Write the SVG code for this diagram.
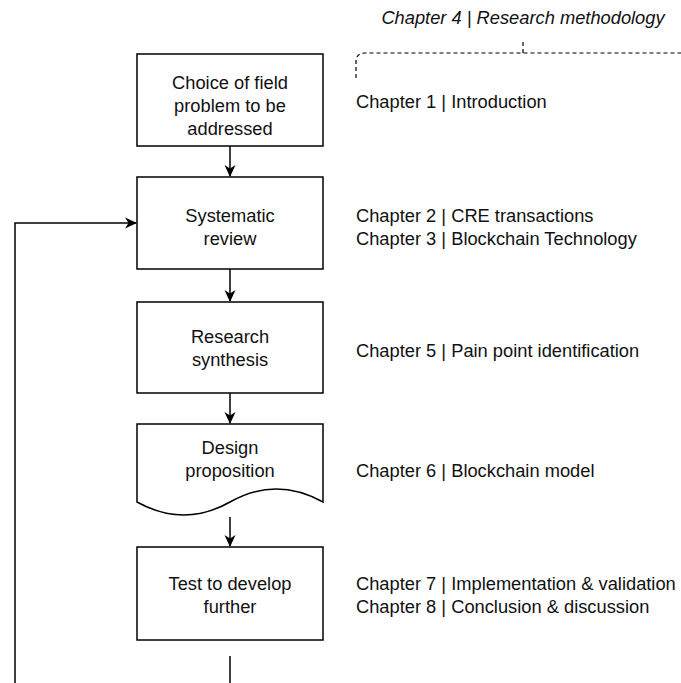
<svg xmlns="http://www.w3.org/2000/svg" width="681" height="683" viewBox="0 0 681 683">
  <defs>
    <marker id="arrow" viewBox="0 0 12 12" refX="11" refY="6" markerWidth="12" markerHeight="12" markerUnits="userSpaceOnUse" orient="auto">
      <path d="M0,0.5 L12,6 L0,11.5 L3.5,6 Z" fill="#000"/>
    </marker>
    <style>
      .box { fill: #fff; stroke: #000; stroke-width: 1.5; }
      .edge { fill: none; stroke: #000; stroke-width: 1.5; }
      .dash { fill: none; stroke: #000; stroke-width: 1.2; stroke-dasharray: 4 3; }
      text { font-family: "Liberation Sans", Arial, sans-serif; font-size: 18.3px; fill: #111; }
      .c { text-anchor: middle; }
      .it { font-style: italic; }
    </style>
  </defs>

  <!-- chapter grouping bracket -->
  <g id="methodology">
    <text class="c it" x="523" y="24">Chapter 4 | Research methodology</text>
    <path class="dash" d="M356,78 V62 Q356,53 365,53 H681"/>
    <path class="dash" d="M523,53 V40"/>
  </g>

  <!-- connectors -->
  <g id="connectors">
    <path class="edge" d="M230,146 V176" marker-end="url(#arrow)"/>
    <path class="edge" d="M230,269 V301" marker-end="url(#arrow)"/>
    <path class="edge" d="M230,393 V423" marker-end="url(#arrow)"/>
    <path class="edge" d="M230,517 V546" marker-end="url(#arrow)"/>
    <path class="edge" d="M230,656 V683"/>
    <path class="edge" d="M15,683 V223 H136" marker-end="url(#arrow)"/>
  </g>

  <g id="choice">
    <rect class="box" x="137" y="54" width="186" height="92"/>
    <text class="c" x="230" y="89">Choice of field</text>
    <text class="c" x="230" y="112">problem to be</text>
    <text class="c" x="230" y="135">addressed</text>
    <text x="356" y="108">Chapter 1 | Introduction</text>
  </g>

  <g id="review">
    <rect class="box" x="137" y="177" width="186" height="92"/>
    <text class="c" x="230" y="222">Systematic</text>
    <text class="c" x="230" y="245">review</text>
    <text x="356" y="222">Chapter 2 | CRE transactions</text>
    <text x="356" y="245">Chapter 3 | Blockchain Technology</text>
  </g>

  <g id="synthesis">
    <rect class="box" x="137" y="302" width="186" height="91"/>
    <text class="c" x="230" y="343">Research</text>
    <text class="c" x="230" y="366">synthesis</text>
    <text x="356" y="357">Chapter 5 | Pain point identification</text>
  </g>

  <g id="design">
    <path class="box" d="M137,424 H323 V502 Q276,476 230,502 T137,502 Z"/>
    <text class="c" x="230" y="454">Design</text>
    <text class="c" x="230" y="477">proposition</text>
    <text x="356" y="477">Chapter 6 | Blockchain model</text>
  </g>

  <g id="test">
    <rect class="box" x="137" y="547" width="186" height="93"/>
    <text class="c" x="230" y="590">Test to develop</text>
    <text class="c" x="230" y="613">further</text>
    <text x="356" y="590">Chapter 7 | Implementation &amp; validation</text>
    <text x="356" y="613">Chapter 8 | Conclusion &amp; discussion</text>
  </g>
</svg>
